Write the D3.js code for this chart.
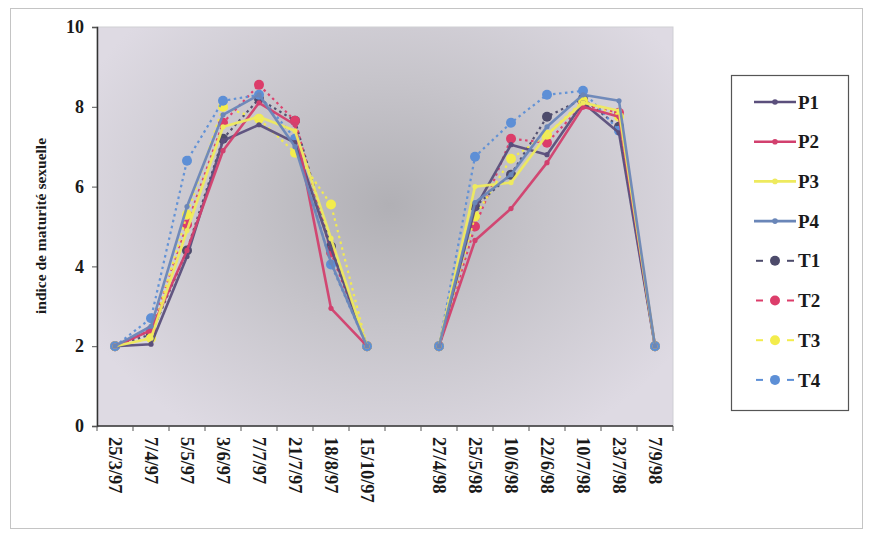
<!DOCTYPE html>
<html>
<head>
<meta charset="utf-8">
<script src="https://cdn.jsdelivr.net/npm/d3@7"></script>
<style>
  body { margin: 0; background: #fff; }
  svg { display: block; }
</style>
</head>
<body>
<svg id="chart" width="871" height="533"></svg>
<script>
// Sampling dates (empty slot separates the 1997 and 1998 seasons)
const categories = ["25/3/97", "7/4/97", "5/5/97", "3/6/97", "7/7/97", "21/7/97", "18/8/97", "15/10/97", "",
  "27/4/98", "25/5/98", "10/6/98", "22/6/98", "10/7/98", "23/7/98", "7/9/98"];

const seriesNames = ["P1", "P2", "P3", "P4", "T1", "T2", "T3", "T4"];

// Sexual maturity index per station
const P1 = [2, 2.05, 4.25, 7.15, 7.55, 7.1, 4.45, 2, null, 2, 5.45, 7.05, 6.8, 8.1, 7.35, 2];
const P2 = [2, 2.4, 4.4, 6.9, 8.1, 7.55, 2.95, 2, null, 2, 4.65, 5.45, 6.6, 8.0, 7.75, 2];
const P3 = [2, 2.2, 4.9, 7.5, 7.75, 7.4, 4.7, 2, null, 2, 6.0, 6.1, 7.3, 8.1, 7.9, 2];
const P4 = [2, 2.5, 5.5, 7.8, 8.3, 7.0, 4.1, 2, null, 2, 5.6, 6.3, 7.5, 8.3, 8.15, 2];
const T1 = [2, 2.3, 4.4, 7.2, 8.2, 7.65, 4.5, 2, null, 2, 5.5, 6.3, 7.75, 8.2, 7.5, 2];
const T2 = [2, 2.4, 5.05, 7.6, 8.55, 7.65, 4.35, 2, null, 2, 5.0, 7.2, 7.1, 8.05, 7.85, 2];
const T3 = [2, 2.2, 5.3, 8.0, 7.7, 6.85, 5.55, 2, null, 2, 5.25, 6.7, 7.3, 8.15, 7.75, 2];
const T4 = [2, 2.7, 6.65, 8.15, 8.3, 7.2, 4.05, 2, null, 2, 6.75, 7.6, 8.3, 8.4, 7.4, 2];

const yTicks = [0, 2, 4, 6, 8, 10];

const seriesValues = [P1, P2, P3, P4, T1, T2, T3, T4];
const colors = ["#5b4f7c", "#d2406e", "#eeea5e", "#6a86b8", "#4d4b6b", "#dc3d6a", "#f3ec4c", "#5d8fd6"];

const series = seriesNames.map((name, i) => ({
  name,
  values: seriesValues[i],
  color: colors[i],
  dashed: name.startsWith("T")
}));

const svg = d3.select("#chart");
const serif = "'Liberation Serif', 'Times New Roman', serif";

// outer chart frame
svg.append("rect")
  .attr("x", 10.5).attr("y", 8.5).attr("width", 852).attr("height", 520)
  .attr("fill", "#fff").attr("stroke", "#c4c4c4").attr("stroke-width", 1);

const plot = { left: 97, right: 673, top: 27, bottom: 426 };

const x = d3.scaleBand().domain(categories.map((c, i) => i))
  .range([plot.left, plot.right]).paddingInner(0).paddingOuter(0);
const y = d3.scaleLinear().domain([0, 10]).range([plot.bottom, plot.top]);

// plot area background
const defs = svg.append("defs");
const grad = defs.append("radialGradient").attr("id", "plotBg")
  .attr("gradientUnits", "userSpaceOnUse")
  .attr("cx", 390).attr("cy", 205).attr("r", 340)
  .attr("gradientTransform", "translate(390,205) scale(1,0.8) translate(-390,-205)");
grad.append("stop").attr("offset", "0%").attr("stop-color", "#b1b0b5");
grad.append("stop").attr("offset", "45%").attr("stop-color", "#c6c4ca");
grad.append("stop").attr("offset", "100%").attr("stop-color", "#dedae3");

svg.append("rect")
  .attr("x", plot.left).attr("y", plot.top)
  .attr("width", plot.right - plot.left).attr("height", plot.bottom - plot.top)
  .attr("fill", "url(#plotBg)")
  .attr("stroke", "#cfcfd4").attr("stroke-width", 1);

// y axis
const yAxis = d3.axisLeft(y).tickValues(yTicks).tickSize(5).tickPadding(8);
const gy = svg.append("g").attr("transform", `translate(${plot.left},0)`).call(yAxis);
gy.select(".domain").attr("stroke", "#333").attr("stroke-width", 1.5);
gy.selectAll(".tick line").attr("stroke", "#555");
gy.selectAll("text")
  .attr("font-family", serif).attr("font-weight", "bold")
  .attr("font-size", 18).attr("fill", "#1a1a1a");

// x axis: ticks between categories
const gx = svg.append("g").attr("transform", `translate(0,${plot.bottom})`);
gx.append("line").attr("x1", plot.left).attr("x2", plot.right)
  .attr("stroke", "#333").attr("stroke-width", 1.5);
const boundaries = categories.map((c, i) => x(i)).concat([x(categories.length - 1) + x.bandwidth()]);
gx.selectAll("line.tk").data(boundaries).join("line").attr("class", "tk")
  .attr("x1", d => d).attr("x2", d => d).attr("y1", 0).attr("y2", 5)
  .attr("stroke", "#555");
gx.selectAll("text").data(categories).join("text")
  .attr("transform", (d, i) => `translate(${x(i) + x.bandwidth() / 2},11) rotate(90)`)
  .attr("dy", "0.35em")
  .attr("font-family", serif).attr("font-weight", "bold")
  .attr("font-size", 18.5).attr("fill", "#1a1a1a")
  .text(d => d);

// axis title
svg.append("text")
  .attr("transform", "translate(46,226) rotate(-90)")
  .attr("text-anchor", "middle")
  .attr("font-family", serif).attr("font-weight", "bold")
  .attr("font-size", 15.5).attr("fill", "#1a1a1a")
  .text("indice de maturité sexuelle");

// series lines and markers
const line = d3.line()
  .defined(d => d.v != null)
  .x(d => x(d.i) + x.bandwidth() / 2)
  .y(d => y(d.v));

const drawOrder = [4, 5, 6, 7, 0, 1, 2, 3];
drawOrder.forEach(k => {
  const s = series[k];
  const pts = s.values.map((v, i) => ({ v, i }));
  const g = svg.append("g");
  g.append("path").datum(pts)
    .attr("d", line)
    .attr("fill", "none")
    .attr("stroke", s.color)
    .attr("stroke-width", s.dashed ? 2.2 : 2.6)
    .attr("stroke-dasharray", s.dashed ? "2.5,3.5" : null)
    .attr("stroke-linejoin", "round")
    .attr("opacity", 0.95);
  g.selectAll("circle").data(pts.filter(d => d.v != null)).join("circle")
    .attr("cx", d => x(d.i) + x.bandwidth() / 2)
    .attr("cy", d => y(d.v))
    .attr("r", s.dashed ? 5 : 2.6)
    .attr("fill", s.color);
});

// legend
const legend = svg.append("g");
legend.append("rect")
  .attr("x", 731.5).attr("y", 75.5).attr("width", 117).attr("height", 335)
  .attr("fill", "#fff").attr("stroke", "#555").attr("stroke-width", 1.2);

series.forEach((s, i) => {
  const ly = 102 + i * 39.7;
  const g = legend.append("g");
  if (s.dashed) {
    g.append("line").attr("x1", 756).attr("x2", 763).attr("y1", ly).attr("y2", ly)
      .attr("stroke", s.color).attr("stroke-width", 2);
    g.append("line").attr("x1", 787).attr("x2", 794).attr("y1", ly).attr("y2", ly)
      .attr("stroke", s.color).attr("stroke-width", 2);
    g.append("circle").attr("cx", 775).attr("cy", ly).attr("r", 5).attr("fill", s.color);
  } else {
    g.append("line").attr("x1", 754).attr("x2", 796).attr("y1", ly).attr("y2", ly)
      .attr("stroke", s.color).attr("stroke-width", 2.6);
    g.append("circle").attr("cx", 775).attr("cy", ly).attr("r", 2.8).attr("fill", s.color);
  }
  g.append("text")
    .attr("x", 798).attr("y", ly).attr("dy", "0.35em")
    .attr("font-family", serif).attr("font-weight", "bold")
    .attr("font-size", 19).attr("fill", "#1a1a1a")
    .text(s.name);
});
</script>
</body>
</html>
